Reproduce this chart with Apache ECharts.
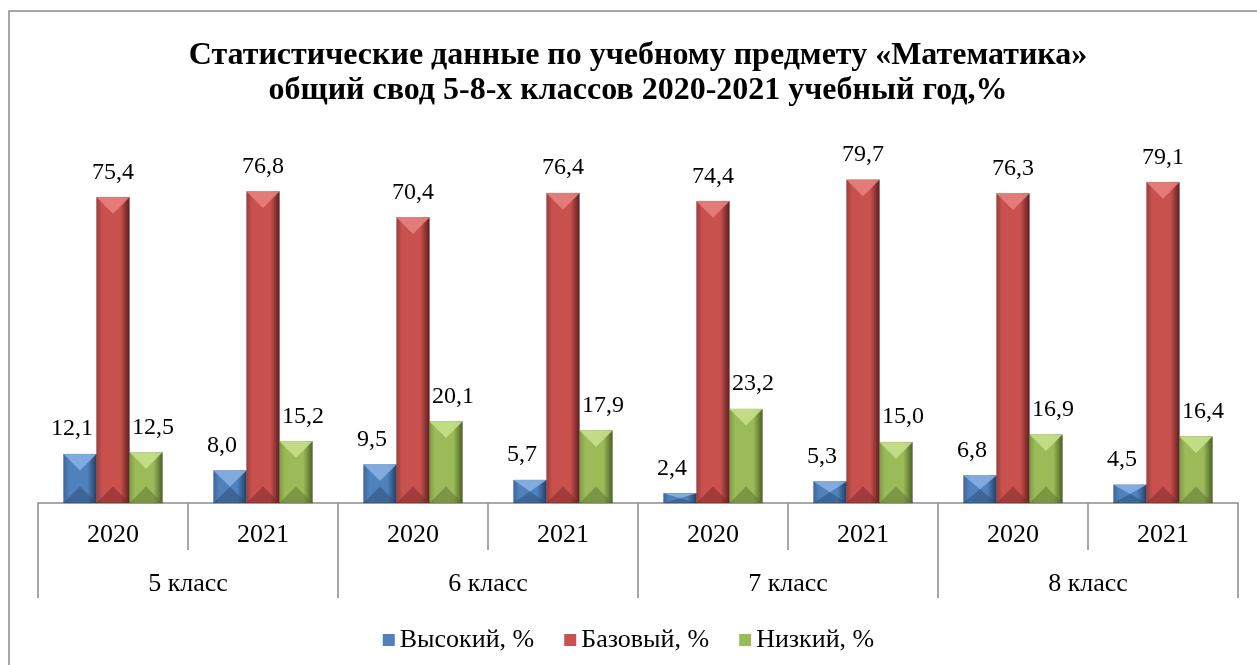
<!DOCTYPE html>
<html>
<head>
<meta charset="utf-8">
<script src="https://cdn.jsdelivr.net/npm/echarts@6/dist/echarts.min.js"></script>
<style>
html,body{margin:0;padding:0;background:#fff;}
#chart{width:1257px;height:665px;}
</style>
</head>
<body>
<div id="chart"></div>
<script>
// ---- data ----
const titleText = 'Статистические данные по учебному предмету «Математика»\nобщий свод 5-8-х классов 2020-2021 учебный год,%';
const years = ['2020', '2021', '2020', '2021', '2020', '2021', '2020', '2021'];
const classes = ['5 класс', '6 класс', '7 класс', '8 класс'];
const seriesNames = ['Высокий, %', 'Базовый, %', 'Низкий, %'];
const high = [12.1, 8.0, 9.5, 5.7, 2.4, 5.3, 6.8, 4.5];
const base = [75.4, 76.8, 70.4, 76.4, 74.4, 79.7, 76.3, 79.1];
const low = [12.5, 15.2, 20.1, 17.9, 23.2, 15.0, 16.9, 16.4];

// ---- styles ----
const FONT = "'Liberation Serif','Times New Roman',serif";
const palettes = [
  {face: '#4F81BD', light: '#86AEE2', dark: '#2B4A73', edgeL: '#3C6599', edgeR: '#223C5E'},
  {face: '#C8514E', light: '#E8807D', dark: '#7A2826', edgeL: '#9E3C3A', edgeR: '#5C1D1C'},
  {face: '#9BBB59', light: '#C6E08A', dark: '#5C7430', edgeL: '#7C9A42', edgeR: '#4A5E24'}
];
const labelShift = [-8, 0, 7];
const seriesData = [high, base, low];

function makeRender(si) {
  const p = palettes[si];
  return function (params, api) {
    const idx = api.value(0);
    const val = api.value(1);
    const top = api.coord([idx, val]);
    const bottom = api.coord([idx, 0]);
    const band = api.size([1, 0])[0];
    const w = band * 0.22;
    const cx = top[0] + (si - 1) * w;
    const x0 = cx - w / 2, x1 = cx + w / 2;
    const y0 = top[1], y1 = bottom[1];
    const h = y1 - y0;
    const d = Math.min(w / 2, h / 2);
    return {
      type: 'group',
      children: [
        {
          type: 'rect',
          shape: {x: x0, y: y0, width: w, height: h},
          style: {
            fill: new echarts.graphic.LinearGradient(0, 0, 1, 0, [
              {offset: 0, color: p.edgeL},
              {offset: 0.18, color: p.face},
              {offset: 0.72, color: p.face},
              {offset: 1, color: p.edgeR}
            ]),
            stroke: 'rgba(0,0,0,0.25)',
            lineWidth: 0.6
          }
        },
        {
          type: 'polygon',
          shape: {points: [[x0, y0], [x1, y0], [cx, y0 + d]]},
          style: {fill: p.light, opacity: 0.9}
        },
        {
          type: 'polygon',
          shape: {points: [[x0, y1], [x1, y1], [cx, y1 - d]]},
          style: {fill: p.dark, opacity: 0.5}
        },
        {
          type: 'text',
          x: cx + labelShift[si],
          y: y0 - 13,
          style: {
            text: val.toFixed(1).replace('.', ','),
            font: '24px ' + FONT,
            fill: '#000',
            align: 'center',
            verticalAlign: 'bottom'
          }
        }
      ]
    };
  };
}

const chart = echarts.init(document.getElementById('chart'), null, {renderer: 'canvas'});
chart.setOption({
  animation: false,
  backgroundColor: '#fff',
  legend: {
    data: seriesNames,
    left: 'center',
    top: 622,
    icon: 'rect',
    itemWidth: 12,
    itemHeight: 12,
    itemGap: 30,
    textStyle: {fontFamily: FONT, fontSize: 26, color: '#000'}
  },
  graphic: [
    {
      type: 'rect',
      shape: {x: 9, y: 11, width: 1400, height: 800},
      style: {fill: 'none', stroke: '#8a8a8a', lineWidth: 1.5},
      silent: true,
      z: -1
    },
    {
      type: 'text',
      x: 638,
      y: 38,
      silent: true,
      style: {
        text: titleText,
        font: 'bold 32px ' + FONT,
        lineHeight: 35,
        fill: '#000',
        align: 'center',
        verticalAlign: 'top'
      }
    }
  ],
  grid: {left: 38, right: 19, top: 138, bottom: 162},
  xAxis: [
    {
      type: 'category',
      data: years,
      position: 'bottom',
      axisLine: {show: true, lineStyle: {color: '#8c8c8c', width: 1.5}},
      axisTick: {show: true, length: 47, lineStyle: {color: '#8c8c8c', width: 1.5}},
      axisLabel: {fontFamily: FONT, fontSize: 26, color: '#000', margin: 19}
    },
    {
      type: 'category',
      data: classes,
      position: 'bottom',
      axisLine: {show: false},
      axisTick: {show: true, length: 95, lineStyle: {color: '#8c8c8c', width: 1.5}},
      axisLabel: {fontFamily: FONT, fontSize: 26, color: '#000', margin: 68}
    }
  ],
  yAxis: {
    type: 'value',
    min: 0,
    max: 90,
    show: false
  },
  series: seriesNames.map((name, si) => ({
    name: name,
    type: 'custom',
    xAxisIndex: 0,
    itemStyle: {color: palettes[si].face},
    renderItem: makeRender(si),
    encode: {x: 0, y: 1},
    data: seriesData[si].map((v, i) => [i, v])
  }))
});
</script>
</body>
</html>
